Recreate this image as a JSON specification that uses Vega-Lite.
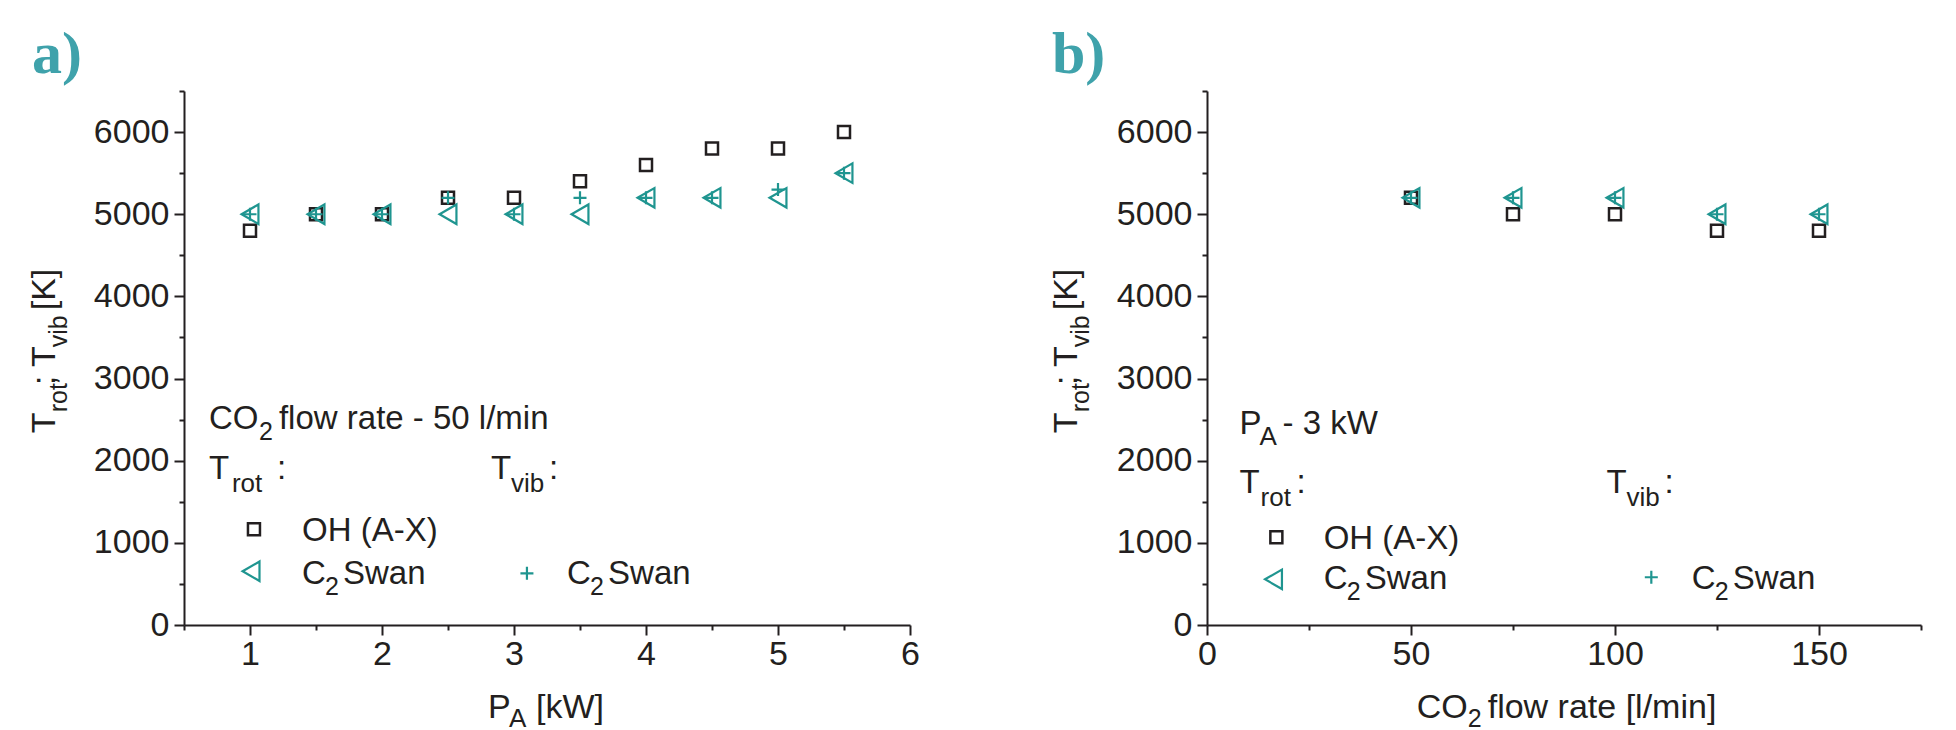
{
"$schema": "https://vega.github.io/schema/vega-lite/v6.json",
"background": "white",
"padding": {"left": 28, "top": 25, "right": 5, "bottom": 5},
"spacing": 130,
"config": {
  "view": {"stroke": null},
  "font": "Liberation Sans",
  "axis": {"domainColor": "#231f20", "domainWidth": 2, "tickColor": "#231f20", "tickWidth": 2, "labelFont": "Liberation Sans", "labelFontSize": 34, "labelColor": "#231f20", "grid": false, "labelFlush": false, "labelOverlap": false}
},
"datasets": {
  "a": [
    {"P": 1, "T": 4800, "series": "OH"}, {"P": 1.5, "T": 5000, "series": "OH"}, {"P": 2, "T": 5000, "series": "OH"}, {"P": 2.5, "T": 5200, "series": "OH"}, {"P": 3, "T": 5200, "series": "OH"},
    {"P": 3.5, "T": 5400, "series": "OH"}, {"P": 4, "T": 5600, "series": "OH"}, {"P": 4.5, "T": 5800, "series": "OH"}, {"P": 5, "T": 5800, "series": "OH"}, {"P": 5.5, "T": 6000, "series": "OH"},
    {"P": 1, "T": 5000, "series": "rot"}, {"P": 1.5, "T": 5000, "series": "rot"}, {"P": 2, "T": 5000, "series": "rot"}, {"P": 2.5, "T": 5000, "series": "rot"}, {"P": 3, "T": 5000, "series": "rot"},
    {"P": 3.5, "T": 5000, "series": "rot"}, {"P": 4, "T": 5200, "series": "rot"}, {"P": 4.5, "T": 5200, "series": "rot"}, {"P": 5, "T": 5200, "series": "rot"}, {"P": 5.5, "T": 5500, "series": "rot"},
    {"P": 1, "T": 5000, "series": "vib"}, {"P": 1.5, "T": 5000, "series": "vib"}, {"P": 2, "T": 5000, "series": "vib"}, {"P": 2.5, "T": 5200, "series": "vib"}, {"P": 3, "T": 5000, "series": "vib"},
    {"P": 3.5, "T": 5200, "series": "vib"}, {"P": 4, "T": 5200, "series": "vib"}, {"P": 4.5, "T": 5200, "series": "vib"}, {"P": 5, "T": 5300, "series": "vib"}, {"P": 5.5, "T": 5500, "series": "vib"}
  ],
  "b": [
    {"F": 50, "T": 5200, "series": "OH"}, {"F": 75, "T": 5000, "series": "OH"}, {"F": 100, "T": 5000, "series": "OH"}, {"F": 125, "T": 4800, "series": "OH"}, {"F": 150, "T": 4800, "series": "OH"},
    {"F": 50, "T": 5200, "series": "rot"}, {"F": 75, "T": 5200, "series": "rot"}, {"F": 100, "T": 5200, "series": "rot"}, {"F": 125, "T": 5000, "series": "rot"}, {"F": 150, "T": 5000, "series": "rot"},
    {"F": 50, "T": 5200, "series": "vib"}, {"F": 75, "T": 5200, "series": "vib"}, {"F": 100, "T": 5200, "series": "vib"}, {"F": 125, "T": 5000, "series": "vib"}, {"F": 150, "T": 5000, "series": "vib"}
  ]
},
"hconcat": [
{
  "width": 726, "height": 534,
  "title": {"text": "a)", "anchor": "start", "frame": "group", "dx": -152, "offset": -43, "baseline": "alphabetic", "font": "Liberation Serif", "fontWeight": "bold", "fontSize": 60, "color": "#3fa2ab"},
  "resolve": {"axis": {"x": "independent", "y": "independent"}},
  "layer": [
    {"data": {"name": "a"}, "transform": [{"filter": "datum.series === 'OH'"}],
     "mark": {"type": "point", "shape": "square", "filled": false, "size": 144, "strokeWidth": 2.5, "color": "#231f20", "opacity": 1},
     "encoding": {
       "x": {"field": "P", "type": "quantitative", "scale": {"domain": [0.5, 6], "nice": false, "zero": false},
             "axis": {"title": null, "orient": "bottom", "values": [1, 2, 3, 4, 5, 6], "format": "d", "tickSize": 10, "labelPadding": 2}},
       "y": {"field": "T", "type": "quantitative", "scale": {"domain": [0, 6500], "nice": false, "zero": false},
             "axis": {"title": null, "orient": "left", "values": [0, 1000, 2000, 3000, 4000, 5000, 6000], "format": "d", "tickSize": 10, "labelPadding": 5}}
     }},
    {"data": {"name": "a"}, "transform": [{"filter": "datum.series === 'rot'"}],
     "mark": {"type": "point", "shape": "triangle-left", "filled": false, "size": 380, "strokeWidth": 2.2, "color": "#1f9590", "opacity": 1},
     "encoding": {
       "x": {"field": "P", "type": "quantitative", "axis": {"title": null, "orient": "bottom", "values": [0.5, 1.5, 2.5, 3.5, 4.5, 5.5], "labels": false, "domain": false, "tickSize": 5}},
       "y": {"field": "T", "type": "quantitative", "axis": {"title": null, "orient": "left", "values": [500, 1500, 2500, 3500, 4500, 5500, 6500], "labels": false, "domain": false, "tickSize": 5}}}},
    {"data": {"name": "a"}, "transform": [{"filter": "datum.series === 'vib'"}],
     "mark": {"type": "point", "shape": "M-1,0H1M0,-1V1", "filled": false, "size": 169, "strokeWidth": 2.2, "color": "#1f9590", "opacity": 1},
     "encoding": {"x": {"field": "P", "type": "quantitative", "axis": null}, "y": {"field": "T", "type": "quantitative", "axis": null}}},

    {"data": {"values": [{}]}, "mark": {"type": "point", "shape": "square", "filled": false, "size": 144, "strokeWidth": 2.5, "color": "#231f20", "opacity": 1},
     "encoding": {"x": {"datum": 1.03, "axis": null}, "y": {"datum": 1165, "axis": null}}},
    {"data": {"values": [{}]}, "mark": {"type": "point", "shape": "triangle-left", "filled": false, "size": 380, "strokeWidth": 2.2, "color": "#1f9590", "opacity": 1},
     "encoding": {"x": {"datum": 1.008, "axis": null}, "y": {"datum": 654, "axis": null}}},
    {"data": {"values": [{}]}, "mark": {"type": "point", "shape": "M-1,0H1M0,-1V1", "filled": false, "size": 169, "strokeWidth": 2.2, "color": "#1f9590", "opacity": 1},
     "encoding": {"x": {"datum": 3.098, "axis": null}, "y": {"datum": 629, "axis": null}}},

    {"data": {"values": [{}]}, "mark": {"type": "text", "text": "CO", "align": "left", "baseline": "alphabetic", "fontSize": 33, "color": "#231f20"},
     "encoding": {"x": {"datum": 0.689, "axis": null}, "y": {"datum": 2382, "axis": null}}},
    {"data": {"values": [{}]}, "mark": {"type": "text", "text": "2", "align": "left", "baseline": "alphabetic", "fontSize": 25, "color": "#231f20", "dx": 50, "dy": 11},
     "encoding": {"x": {"datum": 0.689, "axis": null}, "y": {"datum": 2382, "axis": null}}},
    {"data": {"values": [{}]}, "mark": {"type": "text", "text": "flow rate - 50 l/min", "align": "left", "baseline": "alphabetic", "fontSize": 33, "color": "#231f20", "dx": 70},
     "encoding": {"x": {"datum": 0.689, "axis": null}, "y": {"datum": 2382, "axis": null}}},

    {"data": {"values": [{}]}, "mark": {"type": "text", "text": "T", "align": "left", "baseline": "alphabetic", "fontSize": 33, "color": "#231f20"},
     "encoding": {"x": {"datum": 0.689, "axis": null}, "y": {"datum": 1774, "axis": null}}},
    {"data": {"values": [{}]}, "mark": {"type": "text", "text": "rot", "align": "left", "baseline": "alphabetic", "fontSize": 26, "color": "#231f20", "dx": 23, "dy": 13},
     "encoding": {"x": {"datum": 0.689, "axis": null}, "y": {"datum": 1774, "axis": null}}},
    {"data": {"values": [{}]}, "mark": {"type": "text", "text": ":", "align": "left", "baseline": "alphabetic", "fontSize": 33, "color": "#231f20", "dx": 68},
     "encoding": {"x": {"datum": 0.689, "axis": null}, "y": {"datum": 1774, "axis": null}}},

    {"data": {"values": [{}]}, "mark": {"type": "text", "text": "T", "align": "left", "baseline": "alphabetic", "fontSize": 33, "color": "#231f20"},
     "encoding": {"x": {"datum": 2.826, "axis": null}, "y": {"datum": 1774, "axis": null}}},
    {"data": {"values": [{}]}, "mark": {"type": "text", "text": "vib", "align": "left", "baseline": "alphabetic", "fontSize": 26, "color": "#231f20", "dx": 20, "dy": 13},
     "encoding": {"x": {"datum": 2.826, "axis": null}, "y": {"datum": 1774, "axis": null}}},
    {"data": {"values": [{}]}, "mark": {"type": "text", "text": ":", "align": "left", "baseline": "alphabetic", "fontSize": 33, "color": "#231f20", "dx": 58},
     "encoding": {"x": {"datum": 2.826, "axis": null}, "y": {"datum": 1774, "axis": null}}},

    {"data": {"values": [{}]}, "mark": {"type": "text", "text": "OH (A-X)", "align": "left", "baseline": "alphabetic", "fontSize": 33, "color": "#231f20"},
     "encoding": {"x": {"datum": 1.394, "axis": null}, "y": {"datum": 1019, "axis": null}}},

    {"data": {"values": [{}]}, "mark": {"type": "text", "text": "C", "align": "left", "baseline": "alphabetic", "fontSize": 33, "color": "#231f20"},
     "encoding": {"x": {"datum": 1.394, "axis": null}, "y": {"datum": 495, "axis": null}}},
    {"data": {"values": [{}]}, "mark": {"type": "text", "text": "2", "align": "left", "baseline": "alphabetic", "fontSize": 25, "color": "#231f20", "dx": 23, "dy": 11},
     "encoding": {"x": {"datum": 1.394, "axis": null}, "y": {"datum": 495, "axis": null}}},
    {"data": {"values": [{}]}, "mark": {"type": "text", "text": "Swan", "align": "left", "baseline": "alphabetic", "fontSize": 33, "color": "#231f20", "dx": 41},
     "encoding": {"x": {"datum": 1.394, "axis": null}, "y": {"datum": 495, "axis": null}}},

    {"data": {"values": [{}]}, "mark": {"type": "text", "text": "C", "align": "left", "baseline": "alphabetic", "fontSize": 33, "color": "#231f20"},
     "encoding": {"x": {"datum": 3.402, "axis": null}, "y": {"datum": 495, "axis": null}}},
    {"data": {"values": [{}]}, "mark": {"type": "text", "text": "2", "align": "left", "baseline": "alphabetic", "fontSize": 25, "color": "#231f20", "dx": 23, "dy": 11},
     "encoding": {"x": {"datum": 3.402, "axis": null}, "y": {"datum": 495, "axis": null}}},
    {"data": {"values": [{}]}, "mark": {"type": "text", "text": "Swan", "align": "left", "baseline": "alphabetic", "fontSize": 33, "color": "#231f20", "dx": 41},
     "encoding": {"x": {"datum": 3.402, "axis": null}, "y": {"datum": 495, "axis": null}}},

    {"data": {"values": [{}]}, "mark": {"type": "text", "text": "T", "angle": 270, "align": "left", "baseline": "alphabetic", "fontSize": 34, "color": "#231f20"},
     "encoding": {"x": {"datum": -0.477, "axis": null}, "y": {"datum": 2334, "axis": null}}},
    {"data": {"values": [{}]}, "mark": {"type": "text", "text": "rot", "angle": 270, "align": "left", "baseline": "alphabetic", "fontSize": 25, "color": "#231f20", "dx": 21, "dy": 12},
     "encoding": {"x": {"datum": -0.477, "axis": null}, "y": {"datum": 2334, "axis": null}}},
    {"data": {"values": [{}]}, "mark": {"type": "text", "text": "; T", "angle": 270, "align": "left", "baseline": "alphabetic", "fontSize": 34, "color": "#231f20", "dx": 48},
     "encoding": {"x": {"datum": -0.477, "axis": null}, "y": {"datum": 2334, "axis": null}}},
    {"data": {"values": [{}]}, "mark": {"type": "text", "text": "vib", "angle": 270, "align": "left", "baseline": "alphabetic", "fontSize": 25, "color": "#231f20", "dx": 86, "dy": 12},
     "encoding": {"x": {"datum": -0.477, "axis": null}, "y": {"datum": 2334, "axis": null}}},
    {"data": {"values": [{}]}, "mark": {"type": "text", "text": "[K]", "angle": 270, "align": "left", "baseline": "alphabetic", "fontSize": 34, "color": "#231f20", "dx": 123},
     "encoding": {"x": {"datum": -0.477, "axis": null}, "y": {"datum": 2334, "axis": null}}},

    {"data": {"values": [{}]}, "mark": {"type": "text", "text": "P", "align": "left", "baseline": "alphabetic", "fontSize": 34, "color": "#231f20"},
     "encoding": {"x": {"datum": 2.803, "axis": null}, "y": {"datum": -1130, "axis": null}}},
    {"data": {"values": [{}]}, "mark": {"type": "text", "text": "A", "align": "left", "baseline": "alphabetic", "fontSize": 26, "color": "#231f20", "dx": 21, "dy": 9},
     "encoding": {"x": {"datum": 2.803, "axis": null}, "y": {"datum": -1130, "axis": null}}},
    {"data": {"values": [{}]}, "mark": {"type": "text", "text": "[kW]", "align": "left", "baseline": "alphabetic", "fontSize": 34, "color": "#231f20", "dx": 48},
     "encoding": {"x": {"datum": 2.803, "axis": null}, "y": {"datum": -1130, "axis": null}}}
  ]
},
{
  "width": 714, "height": 534,
  "title": {"text": "b)", "anchor": "start", "frame": "group", "dx": -155, "offset": -43, "baseline": "alphabetic", "font": "Liberation Serif", "fontWeight": "bold", "fontSize": 60, "color": "#3fa2ab"},
  "resolve": {"axis": {"x": "independent", "y": "independent"}},
  "layer": [
    {"data": {"name": "b"}, "transform": [{"filter": "datum.series === 'OH'"}],
     "mark": {"type": "point", "shape": "square", "filled": false, "size": 144, "strokeWidth": 2.5, "color": "#231f20", "opacity": 1},
     "encoding": {
       "x": {"field": "F", "type": "quantitative", "scale": {"domain": [0, 175], "nice": false, "zero": false},
             "axis": {"title": null, "orient": "bottom", "values": [0, 50, 100, 150], "format": "d", "tickSize": 10, "labelPadding": 2}},
       "y": {"field": "T", "type": "quantitative", "scale": {"domain": [0, 6500], "nice": false, "zero": false},
             "axis": {"title": null, "orient": "left", "values": [0, 1000, 2000, 3000, 4000, 5000, 6000], "format": "d", "tickSize": 10, "labelPadding": 5}}
     }},
    {"data": {"name": "b"}, "transform": [{"filter": "datum.series === 'rot'"}],
     "mark": {"type": "point", "shape": "triangle-left", "filled": false, "size": 380, "strokeWidth": 2.2, "color": "#1f9590", "opacity": 1},
     "encoding": {
       "x": {"field": "F", "type": "quantitative", "axis": {"title": null, "orient": "bottom", "values": [25, 75, 125, 175], "labels": false, "domain": false, "tickSize": 5}},
       "y": {"field": "T", "type": "quantitative", "axis": {"title": null, "orient": "left", "values": [500, 1500, 2500, 3500, 4500, 5500, 6500], "labels": false, "domain": false, "tickSize": 5}}}},
    {"data": {"name": "b"}, "transform": [{"filter": "datum.series === 'vib'"}],
     "mark": {"type": "point", "shape": "M-1,0H1M0,-1V1", "filled": false, "size": 169, "strokeWidth": 2.2, "color": "#1f9590", "opacity": 1},
     "encoding": {"x": {"field": "F", "type": "quantitative", "axis": null}, "y": {"field": "T", "type": "quantitative", "axis": null}}},

    {"data": {"values": [{}]}, "mark": {"type": "point", "shape": "square", "filled": false, "size": 144, "strokeWidth": 2.5, "color": "#231f20", "opacity": 1},
     "encoding": {"x": {"datum": 17.0, "axis": null}, "y": {"datum": 1068, "axis": null}}},
    {"data": {"values": [{}]}, "mark": {"type": "point", "shape": "triangle-left", "filled": false, "size": 380, "strokeWidth": 2.2, "color": "#1f9590", "opacity": 1},
     "encoding": {"x": {"datum": 16.3, "axis": null}, "y": {"datum": 556, "axis": null}}},
    {"data": {"values": [{}]}, "mark": {"type": "point", "shape": "M-1,0H1M0,-1V1", "filled": false, "size": 169, "strokeWidth": 2.2, "color": "#1f9590", "opacity": 1},
     "encoding": {"x": {"datum": 108.9, "axis": null}, "y": {"datum": 581, "axis": null}}},

    {"data": {"values": [{}]}, "mark": {"type": "text", "text": "P", "align": "left", "baseline": "alphabetic", "fontSize": 33, "color": "#231f20"},
     "encoding": {"x": {"datum": 7.97, "axis": null}, "y": {"datum": 2321, "axis": null}}},
    {"data": {"values": [{}]}, "mark": {"type": "text", "text": "A", "align": "left", "baseline": "alphabetic", "fontSize": 26, "color": "#231f20", "dx": 20, "dy": 11},
     "encoding": {"x": {"datum": 7.97, "axis": null}, "y": {"datum": 2321, "axis": null}}},
    {"data": {"values": [{}]}, "mark": {"type": "text", "text": "- 3 kW", "align": "left", "baseline": "alphabetic", "fontSize": 33, "color": "#231f20", "dx": 43},
     "encoding": {"x": {"datum": 7.97, "axis": null}, "y": {"datum": 2321, "axis": null}}},

    {"data": {"values": [{}]}, "mark": {"type": "text", "text": "T", "align": "left", "baseline": "alphabetic", "fontSize": 33, "color": "#231f20"},
     "encoding": {"x": {"datum": 7.97, "axis": null}, "y": {"datum": 1603, "axis": null}}},
    {"data": {"values": [{}]}, "mark": {"type": "text", "text": "rot", "align": "left", "baseline": "alphabetic", "fontSize": 26, "color": "#231f20", "dx": 21, "dy": 13},
     "encoding": {"x": {"datum": 7.97, "axis": null}, "y": {"datum": 1603, "axis": null}}},
    {"data": {"values": [{}]}, "mark": {"type": "text", "text": ":", "align": "left", "baseline": "alphabetic", "fontSize": 33, "color": "#231f20", "dx": 57},
     "encoding": {"x": {"datum": 7.97, "axis": null}, "y": {"datum": 1603, "axis": null}}},

    {"data": {"values": [{}]}, "mark": {"type": "text", "text": "T", "align": "left", "baseline": "alphabetic", "fontSize": 33, "color": "#231f20"},
     "encoding": {"x": {"datum": 97.9, "axis": null}, "y": {"datum": 1603, "axis": null}}},
    {"data": {"values": [{}]}, "mark": {"type": "text", "text": "vib", "align": "left", "baseline": "alphabetic", "fontSize": 26, "color": "#231f20", "dx": 20, "dy": 13},
     "encoding": {"x": {"datum": 97.9, "axis": null}, "y": {"datum": 1603, "axis": null}}},
    {"data": {"values": [{}]}, "mark": {"type": "text", "text": ":", "align": "left", "baseline": "alphabetic", "fontSize": 33, "color": "#231f20", "dx": 58},
     "encoding": {"x": {"datum": 97.9, "axis": null}, "y": {"datum": 1603, "axis": null}}},

    {"data": {"values": [{}]}, "mark": {"type": "text", "text": "OH (A-X)", "align": "left", "baseline": "alphabetic", "fontSize": 33, "color": "#231f20"},
     "encoding": {"x": {"datum": 28.6, "axis": null}, "y": {"datum": 921, "axis": null}}},

    {"data": {"values": [{}]}, "mark": {"type": "text", "text": "C", "align": "left", "baseline": "alphabetic", "fontSize": 33, "color": "#231f20"},
     "encoding": {"x": {"datum": 28.6, "axis": null}, "y": {"datum": 434, "axis": null}}},
    {"data": {"values": [{}]}, "mark": {"type": "text", "text": "2", "align": "left", "baseline": "alphabetic", "fontSize": 25, "color": "#231f20", "dx": 23, "dy": 11},
     "encoding": {"x": {"datum": 28.6, "axis": null}, "y": {"datum": 434, "axis": null}}},
    {"data": {"values": [{}]}, "mark": {"type": "text", "text": "Swan", "align": "left", "baseline": "alphabetic", "fontSize": 33, "color": "#231f20", "dx": 41},
     "encoding": {"x": {"datum": 28.6, "axis": null}, "y": {"datum": 434, "axis": null}}},

    {"data": {"values": [{}]}, "mark": {"type": "text", "text": "C", "align": "left", "baseline": "alphabetic", "fontSize": 33, "color": "#231f20"},
     "encoding": {"x": {"datum": 118.8, "axis": null}, "y": {"datum": 434, "axis": null}}},
    {"data": {"values": [{}]}, "mark": {"type": "text", "text": "2", "align": "left", "baseline": "alphabetic", "fontSize": 25, "color": "#231f20", "dx": 23, "dy": 11},
     "encoding": {"x": {"datum": 118.8, "axis": null}, "y": {"datum": 434, "axis": null}}},
    {"data": {"values": [{}]}, "mark": {"type": "text", "text": "Swan", "align": "left", "baseline": "alphabetic", "fontSize": 33, "color": "#231f20", "dx": 41},
     "encoding": {"x": {"datum": 118.8, "axis": null}, "y": {"datum": 434, "axis": null}}},

    {"data": {"values": [{}]}, "mark": {"type": "text", "text": "T", "angle": 270, "align": "left", "baseline": "alphabetic", "fontSize": 34, "color": "#231f20"},
     "encoding": {"x": {"datum": -31.8, "axis": null}, "y": {"datum": 2334, "axis": null}}},
    {"data": {"values": [{}]}, "mark": {"type": "text", "text": "rot", "angle": 270, "align": "left", "baseline": "alphabetic", "fontSize": 25, "color": "#231f20", "dx": 21, "dy": 12},
     "encoding": {"x": {"datum": -31.8, "axis": null}, "y": {"datum": 2334, "axis": null}}},
    {"data": {"values": [{}]}, "mark": {"type": "text", "text": "; T", "angle": 270, "align": "left", "baseline": "alphabetic", "fontSize": 34, "color": "#231f20", "dx": 48},
     "encoding": {"x": {"datum": -31.8, "axis": null}, "y": {"datum": 2334, "axis": null}}},
    {"data": {"values": [{}]}, "mark": {"type": "text", "text": "vib", "angle": 270, "align": "left", "baseline": "alphabetic", "fontSize": 25, "color": "#231f20", "dx": 86, "dy": 12},
     "encoding": {"x": {"datum": -31.8, "axis": null}, "y": {"datum": 2334, "axis": null}}},
    {"data": {"values": [{}]}, "mark": {"type": "text", "text": "[K]", "angle": 270, "align": "left", "baseline": "alphabetic", "fontSize": 34, "color": "#231f20", "dx": 123},
     "encoding": {"x": {"datum": -31.8, "axis": null}, "y": {"datum": 2334, "axis": null}}},

    {"data": {"values": [{}]}, "mark": {"type": "text", "text": "CO", "align": "left", "baseline": "alphabetic", "fontSize": 34, "color": "#231f20"},
     "encoding": {"x": {"datum": 51.4, "axis": null}, "y": {"datum": -1130, "axis": null}}},
    {"data": {"values": [{}]}, "mark": {"type": "text", "text": "2", "align": "left", "baseline": "alphabetic", "fontSize": 25, "color": "#231f20", "dx": 51, "dy": 9},
     "encoding": {"x": {"datum": 51.4, "axis": null}, "y": {"datum": -1130, "axis": null}}},
    {"data": {"values": [{}]}, "mark": {"type": "text", "text": "flow rate [l/min]", "align": "left", "baseline": "alphabetic", "fontSize": 34, "color": "#231f20", "dx": 71},
     "encoding": {"x": {"datum": 51.4, "axis": null}, "y": {"datum": -1130, "axis": null}}}
  ]
}
]
}
